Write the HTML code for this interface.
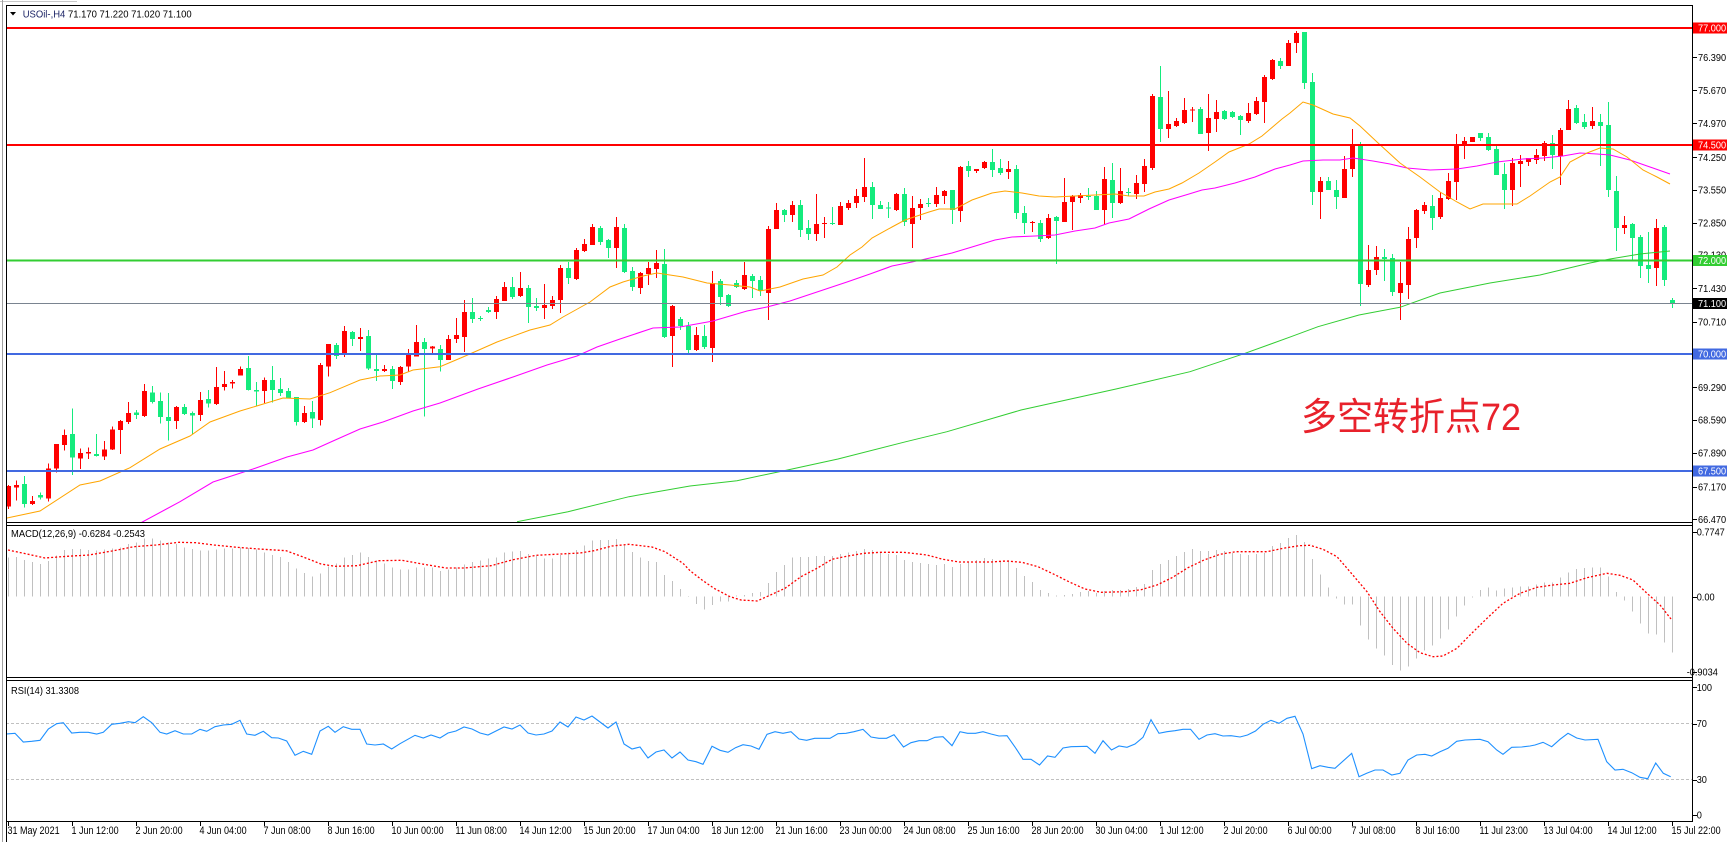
<!DOCTYPE html>
<html><head><meta charset="utf-8"><style>
html,body{margin:0;padding:0;background:#fff;width:1727px;height:842px;overflow:hidden}
svg{display:block}
text{font-family:"Liberation Sans",Arial,sans-serif}
</style></head><body>
<svg id="s" width="1727" height="842" viewBox="0 0 1727 842" xmlns="http://www.w3.org/2000/svg">
<defs>
<clipPath id="cm"><rect x="7" y="6" width="1685" height="516"/></clipPath>
<clipPath id="cd"><rect x="7" y="526" width="1685" height="151"/></clipPath>
<clipPath id="cr"><rect x="7" y="681" width="1685" height="140"/></clipPath>
</defs>
<rect width="1727" height="842" fill="#fff"/>
<rect x="0" y="1" width="77" height="1" fill="#c8c8c8"/>

<g clip-path="url(#cm)">
 <g id="candles" shape-rendering="crispEdges"></g>
 <polyline id="maG" fill="none" stroke="#32cd32" stroke-width="1"/>
 <polyline id="maM" fill="none" stroke="#ff00ff" stroke-width="1.1"/>
 <polyline id="maO" fill="none" stroke="#ffa500" stroke-width="1"/>
 <g shape-rendering="crispEdges">
  <rect x="6" y="27" width="1687" height="2" fill="#ff0000"/>
  <rect x="6" y="144" width="1687" height="2" fill="#ff0000"/>
  <rect x="6" y="259.5" width="1687" height="2" fill="#32cd32"/>
  <rect x="6" y="303" width="1687" height="1" fill="#7a8490"/>
  <rect x="6" y="353" width="1687" height="2" fill="#4169e1"/>
  <rect x="6" y="470" width="1687" height="2" fill="#4169e1"/>
 </g>
 <text x="1301" y="430" font-size="38" fill="#e8212b" textLength="220" lengthAdjust="spacingAndGlyphs" style='font-family:"Liberation Sans","Noto Sans CJK SC",sans-serif'>多空转折点72</text>
</g>

<g clip-path="url(#cd)">
 <g id="hist" shape-rendering="crispEdges"></g>
 <polyline id="sig" fill="none" stroke="#ff0000" stroke-width="1.3" stroke-dasharray="2 2"/>
</g>

<g clip-path="url(#cr)">
 <g shape-rendering="crispEdges">
  <line x1="6" y1="723.5" x2="1693" y2="723.5" stroke="#c0c0c0" stroke-width="1" stroke-dasharray="3 2"/>
  <line x1="6" y1="779.5" x2="1693" y2="779.5" stroke="#c0c0c0" stroke-width="1" stroke-dasharray="3 2"/>
 </g>
 <polyline id="rsi" fill="none" stroke="#1e90ff" stroke-width="1.1"/>
</g>

<!-- frames -->
<g shape-rendering="crispEdges" fill="#000">
 <rect x="2" y="0" width="1" height="842" fill="#a0a0a0"/>
 <rect x="6" y="5" width="1" height="837"/>
 <rect x="6" y="5" width="1687" height="1"/>
 <rect x="1692" y="5" width="1" height="817"/>
 <rect x="6" y="522" width="1687" height="1"/>
 <rect x="6" y="525" width="1687" height="1"/>
 <rect x="6" y="677" width="1687" height="1"/>
 <rect x="6" y="680" width="1687" height="1"/>
 <rect x="6" y="821" width="1687" height="1"/>
</g>

<!-- title -->
<polygon points="10,12 16,12 13,15.5" fill="#000"/>
<text x="22.7" y="17.5" font-size="10.5" textLength="169" lengthAdjust="spacingAndGlyphs"><tspan fill="#1c2466">USOil-,H4</tspan><tspan fill="#000">  71.170 71.220 71.020 71.100</tspan></text>
<text x="11" y="537" font-size="10.5" fill="#000" textLength="134" lengthAdjust="spacingAndGlyphs">MACD(12,26,9) -0.6284 -0.2543</text>
<text x="11" y="694" font-size="10.5" fill="#000" textLength="68" lengthAdjust="spacingAndGlyphs">RSI(14) 31.3308</text>

<!-- right axis ticks -->
<g id="rticks" shape-rendering="crispEdges" fill="#000"></g>

<!-- price labels -->
<g font-size="10" fill="#000">
 <text transform="translate(1698 60.9) scale(0.92 1)">76.390</text>
 <text transform="translate(1698 93.9) scale(0.92 1)">75.670</text>
 <text transform="translate(1698 126.9) scale(0.92 1)">74.970</text>
 <text transform="translate(1698 160.9) scale(0.92 1)">74.250</text>
 <text transform="translate(1698 193.6) scale(0.92 1)">73.550</text>
 <text transform="translate(1698 226.3) scale(0.92 1)">72.850</text>
 <text transform="translate(1698 258.6) scale(0.92 1)">72.130</text>
 <text transform="translate(1698 291.9) scale(0.92 1)">71.430</text>
 <text transform="translate(1698 325.3) scale(0.92 1)">70.710</text>
 <text transform="translate(1698 390.9) scale(0.92 1)">69.290</text>
 <text transform="translate(1698 423.6) scale(0.92 1)">68.590</text>
 <text transform="translate(1698 456.6) scale(0.92 1)">67.890</text>
 <text transform="translate(1698 490.3) scale(0.92 1)">67.170</text>
 <text transform="translate(1698 522.9) scale(0.92 1)">66.470</text>
</g>
<g shape-rendering="crispEdges">
 <rect x="1693" y="22.5" width="34" height="11" fill="#ff0000"/>
 <rect x="1693" y="139.5" width="34" height="11" fill="#ff0000"/>
 <rect x="1693" y="255" width="34" height="11" fill="#32cd32"/>
 <rect x="1693" y="298" width="34" height="11" fill="#000"/>
 <rect x="1693" y="348.5" width="34" height="11" fill="#4169e1"/>
 <rect x="1693" y="465.5" width="34" height="11" fill="#4169e1"/>
</g>
<g font-size="10" fill="#fff">
 <text transform="translate(1698 31.6) scale(0.92 1)">77.000</text>
 <text transform="translate(1698 148.6) scale(0.92 1)">74.500</text>
 <text transform="translate(1698 264.1) scale(0.92 1)">72.000</text>
 <text transform="translate(1698 307.1) scale(0.92 1)">71.100</text>
 <text transform="translate(1698 357.6) scale(0.92 1)">70.000</text>
 <text transform="translate(1698 474.6) scale(0.92 1)">67.500</text>
</g>
<g font-size="10" fill="#000">
 <text transform="translate(1696.7 535.3) scale(0.92 1)">0.7747</text>
 <text transform="translate(1696.7 600.3) scale(0.92 1)">0.00</text>
 <text transform="translate(1686.7 675.3) scale(0.92 1)">-0.9034</text>
 <text transform="translate(1696.7 690.9) scale(0.92 1)">100</text>
 <text transform="translate(1696.7 726.9) scale(0.92 1)">70</text>
 <text transform="translate(1696.7 782.9) scale(0.92 1)">30</text>
 <text transform="translate(1696.7 818.3) scale(0.92 1)">0</text>
</g>

<!-- date axis -->
<g id="dticks" shape-rendering="crispEdges" fill="#000"></g>
<g font-size="11" fill="#000">
 <text transform="translate(7.5 834) scale(0.82 1)">31 May 2021</text>
 <text transform="translate(71.5 834) scale(0.82 1)">1 Jun 12:00</text>
 <text transform="translate(135.5 834) scale(0.82 1)">2 Jun 20:00</text>
 <text transform="translate(199.5 834) scale(0.82 1)">4 Jun 04:00</text>
 <text transform="translate(263.5 834) scale(0.82 1)">7 Jun 08:00</text>
 <text transform="translate(327.5 834) scale(0.82 1)">8 Jun 16:00</text>
 <text transform="translate(391.5 834) scale(0.82 1)">10 Jun 00:00</text>
 <text transform="translate(455.5 834) scale(0.82 1)">11 Jun 08:00</text>
 <text transform="translate(519.5 834) scale(0.82 1)">14 Jun 12:00</text>
 <text transform="translate(583.5 834) scale(0.82 1)">15 Jun 20:00</text>
 <text transform="translate(647.5 834) scale(0.82 1)">17 Jun 04:00</text>
 <text transform="translate(711.5 834) scale(0.82 1)">18 Jun 12:00</text>
 <text transform="translate(775.5 834) scale(0.82 1)">21 Jun 16:00</text>
 <text transform="translate(839.5 834) scale(0.82 1)">23 Jun 00:00</text>
 <text transform="translate(903.5 834) scale(0.82 1)">24 Jun 08:00</text>
 <text transform="translate(967.5 834) scale(0.82 1)">25 Jun 16:00</text>
 <text transform="translate(1031.5 834) scale(0.82 1)">28 Jun 20:00</text>
 <text transform="translate(1095.5 834) scale(0.82 1)">30 Jun 04:00</text>
 <text transform="translate(1159.5 834) scale(0.82 1)">1 Jul 12:00</text>
 <text transform="translate(1223.5 834) scale(0.82 1)">2 Jul 20:00</text>
 <text transform="translate(1287.5 834) scale(0.82 1)">6 Jul 00:00</text>
 <text transform="translate(1351.5 834) scale(0.82 1)">7 Jul 08:00</text>
 <text transform="translate(1415.5 834) scale(0.82 1)">8 Jul 16:00</text>
 <text transform="translate(1479.5 834) scale(0.82 1)">11 Jul 23:00</text>
 <text transform="translate(1543.5 834) scale(0.82 1)">13 Jul 04:00</text>
 <text transform="translate(1607.5 834) scale(0.82 1)">14 Jul 12:00</text>
 <text transform="translate(1671.5 834) scale(0.82 1)">15 Jul 22:00</text>
</g>
</svg>
<script>
(function(){
var NS="http://www.w3.org/2000/svg";
function el(tag,attrs,parent){var e=document.createElementNS(NS,tag);for(var k in attrs)e.setAttribute(k,attrs[k]);parent.appendChild(e);return e;}
var C=[[506.7,485,509,486],[487.7,480.7,500.7,485],[484,476,507.3,504],[504,496,505,501],[495,492.7,499.3,497.7],[498.7,463.3,501.7,468.3],[468.3,444,472.7,444],[445,429.3,450.7,435],[434,408.3,475,457.7],[458.7,448.3,469,453],
[453.7,447.3,459,452],[454,434,456.7,456],[456.7,441,460,449.3],[449.3,426.7,450,429.3],[430,420,454,421],[422,402,424,413],[412.7,410,419,415],[416,384,417,391],[392.3,386,403.3,402],[401,392.3,423.3,417],
[417,393,440.7,421],[421,406,429,407],[407,404,415,414],[413,411.3,434,415.7],[415,392,421,400],[399,390,407.7,403.7],[404,367,405,387],[387,371,390.7,384],[383.7,380,388.7,382],[375.7,366.7,375.7,369],
[368,356,390.7,390],[390,382,406,391.7],[391,377.7,403,380],[380,366,402.7,390],[389,378,396,393],[391,388,398.7,398],[397,397,425.7,422],[422,406,423,413],[412,401,428,418.7],[420,363,425.7,365],
[366.7,344,376.7,344],[345,343,359,356],[354,326,357,331],[332,331,346,339],[339,328,351,337],[336,330,370,368.7],[369,354,381,371],[371,365,372,369],[369,366,389,381],[382,366,385,367],
[366.7,349,372,354.7],[356.7,325,356.7,342],[342,338,416.7,349],[348.7,346,353,346.7],[349,345,371.7,360],[360,335,360,339],[339,318,343,335],[337,300,352,312],[312,298,323,319],[318,316,321,318.3],
[310,307,313,312],[312,296,319,299],[301,282,301,287],[287,277,299,297],[296,272,297,288],[288,285,323,307],[306,298,311,308],[308,284,319,305],[306,296,309,300],[300,265,313,268],
[268,262,284,278],[279,248,280,250],[251,239,252,244],[245,224,245,227],[228,226,245,242],[240,239,258,248],[248,217,268,227],[228,224,273,272],[271,267,291,287],[288,272,294,273],
[274,262,285,268],[269,250,278,263],[264,249,338,337],[336,305,367,306],[319,317,330,326],[326,322,353,350],[350,327,351,335],[336,325,349,347],[348,271,362,283],[281,279,305,297],
[295,294,307,306],[283,280,288,287],[289,262,290,275],[276,274,298,281],[280,276,296,291],[293,226,320,229],[229,203,229,210],[210,209,222,215],[215,201,222,205],[205,200,237,230],
[228,220,240,234],[234,194,241,224],[224,217,238,223],[223,207,225,224],[225,202,225,206],[208,200,210,203],[203,189,208,196],[197,158,202,187],[187,182,219,205],[205,201,209,209],
[207.7,202,218,208.3],[210,193,211,194],[194,188,226,222],[224,196,248,208],[208,199,220,204],[203,198,207,203.3],[204,187,207,195],[196,190,204,191],[190,190,224,210],[211,166,222,167],
[166,161,177,171],[171,169,173,169],[168,161,169,162],[162,149,177,170],[168,159,175,173],[172,161,179,169],[169,165,219,213],[213,206,234,223],[223,221,232,222],[223,220,242,239],
[238,214,239,218],[217,216,264,221],[222,178,222,202],[202,195,230,196],[198,193,203,195],[196,188,200,197],[196,191,210,210],[210,167,225,179],[180,163,218,203],[203,168,204,191],
[192,188,196,192.3],[194,175,199,183],[184,159,192,166],[168,94,170,96],[97,66,142,129],[129,91,138,124],[126,118,127,121],[123,98,124,110],[110.7,107,122,109.7],[109,107,134,134],
[133,94,151,118],[119,100,132,112],[111,110,120,119],[112,111,118,117],[116,115,135,120],[121,103,123,113],[114,97,115,101],[102,75,123,77],[79,59,80,60],[61,58,69,66],
[66,40,66,43],[43,31,53,33],[32,32,89,83],[82,73,205,192],[192,177,219,181],[181,177,190,190],[190,180,209,197],[198,156,198,169],[169,129,177,145],[144,142,306,284],
[285,245,287,270],[270,246,275,257],[257,249,281,259],[258,254,296,292],[293,262,320,283],[285,227,299,239],[238,209,248,210],[211,202,214,205],[206,195,230,218],[217,192,219,198],
[199,173,200,181],[182,134,200,145],[145,137,159,141],[142,137,142,137],[133,133,141,138],[137,133,151,150],[149,146,175,175],[174,163,209,190],[190,158,206,163],[164,155,187,161],
[162,158,166,158],[160,149,164,155],[156,141,161,143],[143,135,169,155],[156,128,185,130],[130,100,130,109],[108,105,124,123],[122,114,129,127],[126,107,129,121],[122,114,166,126],
[125,102,197,190],[191,176,251,228],[228,216,234,225],[224,223,260,238],[237,235,278,266],[265,232,283,269],[268,219,286,228],[227,225,286,280],[300,298,308,303]];
var red="",grn="";
for(var i=0;i<C.length;i++){var x=8+8*i,o=C[i][0],h=C[i][1],l=C[i][2],c=C[i][3];
 var bull=c<o;var s="M"+x+" "+h+"h1V"+l+"h-1z";
 var t=Math.min(o,c),b=Math.max(o,c),hh=Math.max(b-t,1);
 s+="M"+(x-2)+" "+t+"h5v"+hh+"h-5z";
 if(bull)red+=s;else grn+=s;}
var cg=document.getElementById("candles");
el("path",{d:red,fill:"#ff0000"},cg);
el("path",{d:grn,fill:"#14eb7d"},cg);

var H=[557.7,557,560,562,564,561,555.3,550,549,549,550,550.7,549.3,548.7,547.3,544,542.3,538.7,538.3,540.3,542.7,544,547.3,549,550.3,550.3,549.7,548.7,548.3,547.7,548,549.7,552.7,555,557,562,568.7,573,576.7,573.7,566.7,563.3,557.7,555,552.7,557,560.3,563.7,567.7,569.7,569.7,567.7,567.7,567.7,571,569.3,567.7,564.3,562,560.7,558.3,557.7,552.7,551.7,551,554,555.7,558.7,558.7,555,552.7,550,545.3,540.7,540,540,539,544.3,552,557.3,561,562,575,581,589,596,
604,609.7,605,601.7,601.7,595.7,595,593,592,583,572,565,557.7,557,557,556,556,556,554,552.7,551,549,550,552.3,554,555,560,562,563,564,565,564,567,564,562,560,558,559,561,560,568,576,582,590,593,595.7,595,594,592,591,593,591,590,590,589,587,584,570,564,560,556,552,549,551,551,550,551,553,554,555,554,553,546,543,538,535,542,
559,574.7,587.7,598.7,604.7,604.7,625.7,639.7,648.7,655.7,665,670.7,666.7,658.7,650.7,645.7,638.7,629.7,616.7,605.7,597.5,590,587.3,590.7,588.7,587.3,586.7,586.7,584.3,582.3,582.3,577.3,572.3,569,568,567.3,567.3,576.7,592,600.3,611.7,623.7,633.7,634.7,642.7,652.7];
var z=596.7,hp="";
for(var j=0;j<H.length;j++){var x2=8+8*j,t2=Math.min(H[j],z),b2=Math.max(H[j],z);hp+="M"+x2+" "+t2+"h1V"+b2+"h-1z";}
el("path",{d:hp,fill:"#c0c0c0"},document.getElementById("hist"));

function P(a){var s=[];for(var k=0;k<a.length;k+=2)s.push(a[k]+","+a[k+1]);return s.join(" ");}
document.getElementById("maO").setAttribute("points",P([7,518,40,511,80,485,100,481,130,467.7,160,449,190,436,210,422,240,411,260,405,283,398,310,399,330,392.7,360,380,380,376,400,375,413,370,440,366.7,463,357,497,342,530,330,550,325,563,317,590,302,610,287,623,282,643,276,657,273,683,277,707,283,730,285,750,287,760,291,780,287,803,279,823,275,837,267,850,255,862,247,872,238,892,227,905,220,929,212,939,209,955,209,972,200,992,193,1005,191,1022,193,1039,196,1055,197,1075,196,1095,195,1115,194,1129,196,1144,196,1155,192,1169,189,1182,183,1199,173,1215,162,1229,152,1249,144,1262,136,1282,119,1290,113,1303,102,1313,105,1333,114,1350,118,1360,126,1377,142,1400,163,1420,177,1440,192,1457,202,1470,209,1483,204,1500,204,1517,204,1530,196,1550,182,1560,177,1570,162,1587,153,1600,148,1613,149,1627,157,1643,170,1657,177,1670,184]));
document.getElementById("maM").setAttribute("points",P([141.7,522.3,180,501.7,213,482,253,469,287,457,313,450,333,441,360,429,383,422,413,411,440,403,478,389,513,377,547,365,577,356,597,347,620,339,653,328,680,327,713,321,747,311,767,307,790,301,817,292,847,282,870,274,892,266,912,262,939,256,952,253,972,247,995,240,1012,237,1035,236,1055,235,1075,231,1095,228,1109,223,1129,219,1149,209,1169,200,1189,194,1202,190,1215,188,1235,183,1255,177,1275,169,1290,165,1303,161,1323,160,1340,160,1353,158,1373,161,1390,164,1407,168,1430,170,1457,169,1477,166,1497,162,1523,159,1543,158,1563,156,1580,153,1597,154,1610,155,1630,160,1650,167,1670,174]));
document.getElementById("maG").setAttribute("points",P([517,521.7,568,511.7,629,496.7,690,486,737,480.7,784,470.7,838,459,906,441.7,947,431.7,1021,410,1116,389,1190,371.7,1244,353.7,1291,336.7,1318,326.7,1359,315,1400,307.3,1440,293,1490,283,1540,275,1590,263,1610,259,1640,254,1670,251]));
document.getElementById("sig").setAttribute("points",P([8,550,27,554,45,558,67,556.3,89,555,112,551,134,546.7,156,545,179,542.3,196,542.7,214,545,237,547.3,259,549,286,550.7,304,557.3,321,564,335,566.3,357,565.7,379,560.7,402,560.3,424,564.3,446,568,464,568,491,565.7,513,559.7,536,555.3,580,553,594,550.7,612,546,629,544.3,652,547,665,551.7,683,563.3,690,570.7,702,580,714,588.3,730,596.7,741,600,757,601,769,595.7,785,588.3,801,576.7,817,568.3,832,559.3,848,556,864,553.3,880,552.3,903.5,552.3,927,555,943,559.3,959,562,990.5,562,1006,561,1022,562.3,1038,566.7,1054,574.3,1070,582.3,1085,589,1101,592.3,1125,591.7,1141,589.7,1157,585,1172,577.7,1188,567.7,1204,560,1220,554.3,1236,551.7,1267,551.7,1283,548.3,1299,545.7,1310,545.3,1323,549.3,1337,556.7,1350,571.7,1367,591.7,1380,611.7,1393,628.3,1407,643.3,1420,652.7,1433,656.7,1443,656,1457,648.3,1470,635,1487,618.3,1503,603.3,1520,593.3,1537,587.3,1553,585,1570,583.3,1587,577.7,1607,573.3,1620,575.3,1633,580,1647,593.3,1660,605,1671,619]));
document.getElementById("rsi").setAttribute("points",P([6.7,734,15,733.3,23.3,742,31.7,741.3,40,740.3,48.3,729,56.7,723.7,63.3,722.7,71.7,733,80,732.3,88.3,732.3,96.7,734,103.3,732.3,111.7,724.3,120,723.3,128.3,721.7,135,722.7,143.3,716.7,151.7,722.7,160,732.3,166.7,734,175,730.7,183.3,734,191.7,734,200,729.3,206.7,731.3,215,726.7,223.3,725,231.7,724.3,240,720.3,246.7,734,255,735.3,263.3,731.3,271.7,737.7,278.3,738,286.7,741,295,755.3,303.3,751.3,311.7,754.3,320,731,328.3,726.3,335,732.3,343.3,726.7,351.7,729.3,360,729.3,366.7,744,375,745,383.3,744,391.7,749,400,743.7,415,735.3,423.3,738,
431,735,440,738,448,733,456,731,464,727,472,729,480,733,488,735,496,731,504,727,512,729,520,725,528,733,536,735,544,734,552,731,560,722,568,727,576,717,584,720,592,716,600,722,608,728,616,722,624,744,632,749,640,747,648,758,656,752,664,750,672,758,680,752,688,760,
696,761.7,703,764.3,712,746.3,720,750.3,728,752.3,735.5,747.7,743,744.7,751,746,759,749.3,767,734.3,775,731.7,783,733.3,791,731.7,799,739,806.6,740.3,814.6,738.3,830,738.3,838,733.7,846,733.3,854,731.7,863,729.3,871,737,879,738.3,886.5,738.3,894,734.7,903.5,747,911,742.7,919,740.7,927,740.7,935,737.3,943,736.7,952,745.7,960,731.7,967.6,733.3,975.5,733.3,983,731.7,991,734,999,736,1007,735.7,1015,747,1023,759.3,1031,759.3,1039.5,765,1047.5,756,1055,757.3,1063,748,1071,746.7,1087,746.3,1095,753.3,1103,740.7,1111.5,750,1119,746,1127,747.3,1135,744,1143,737.3,1151,719.7,1159,733.3,1167,731.7,1175,730.7,1183,729.3,1190.6,729.3,1199,739.3,1207,735,1215,733.7,1223,736,1231,735.7,1240,737,1247.5,735,1255.5,731,1263,724.3,1271,720.3,1279,723.3,1287,718.3,1295,716.3,1303,734,
1311.7,768.7,1320,765.7,1328,767.3,1335,768.3,1351.7,753.3,1359,776.7,1366.7,773.3,1375,770,1383,770,1391.7,775,1400,773.3,1408,760,1416.7,755,1425,754.3,1431.7,756,1440,751.7,1448,748.3,1456.7,741.3,1465,740,1480,739.3,1488,741.7,1496.7,750,1503,754.3,1511.7,747.3,1521.7,747,1530,746,1535,745,1543,742.3,1551.7,746.7,1560,739.3,1568,733.3,1576.7,738,1585,740,1598,739.3,1606.7,761.7,1615,770,1623,769.3,1631.7,772.7,1640,777.3,1647.7,778.7,1655.7,763,1663.3,773.3,1670.7,776.7]));

var rt=document.getElementById("rticks");
[28,57,90,123,145,157,190,222.5,255,260.5,288,303.5,321.5,354,387,420,453,471,486.5,519,531.5,596.5,671.5,687,723.5,779.5,814.5].forEach(function(y){el("rect",{x:1693,y:Math.round(y),width:4,height:1},rt);});
var dt=document.getElementById("dticks");
for(var q=0;q<27;q++){el("rect",{x:8+64*q,y:822,width:1,height:4},dt);}
})();
</script>
</body></html>
